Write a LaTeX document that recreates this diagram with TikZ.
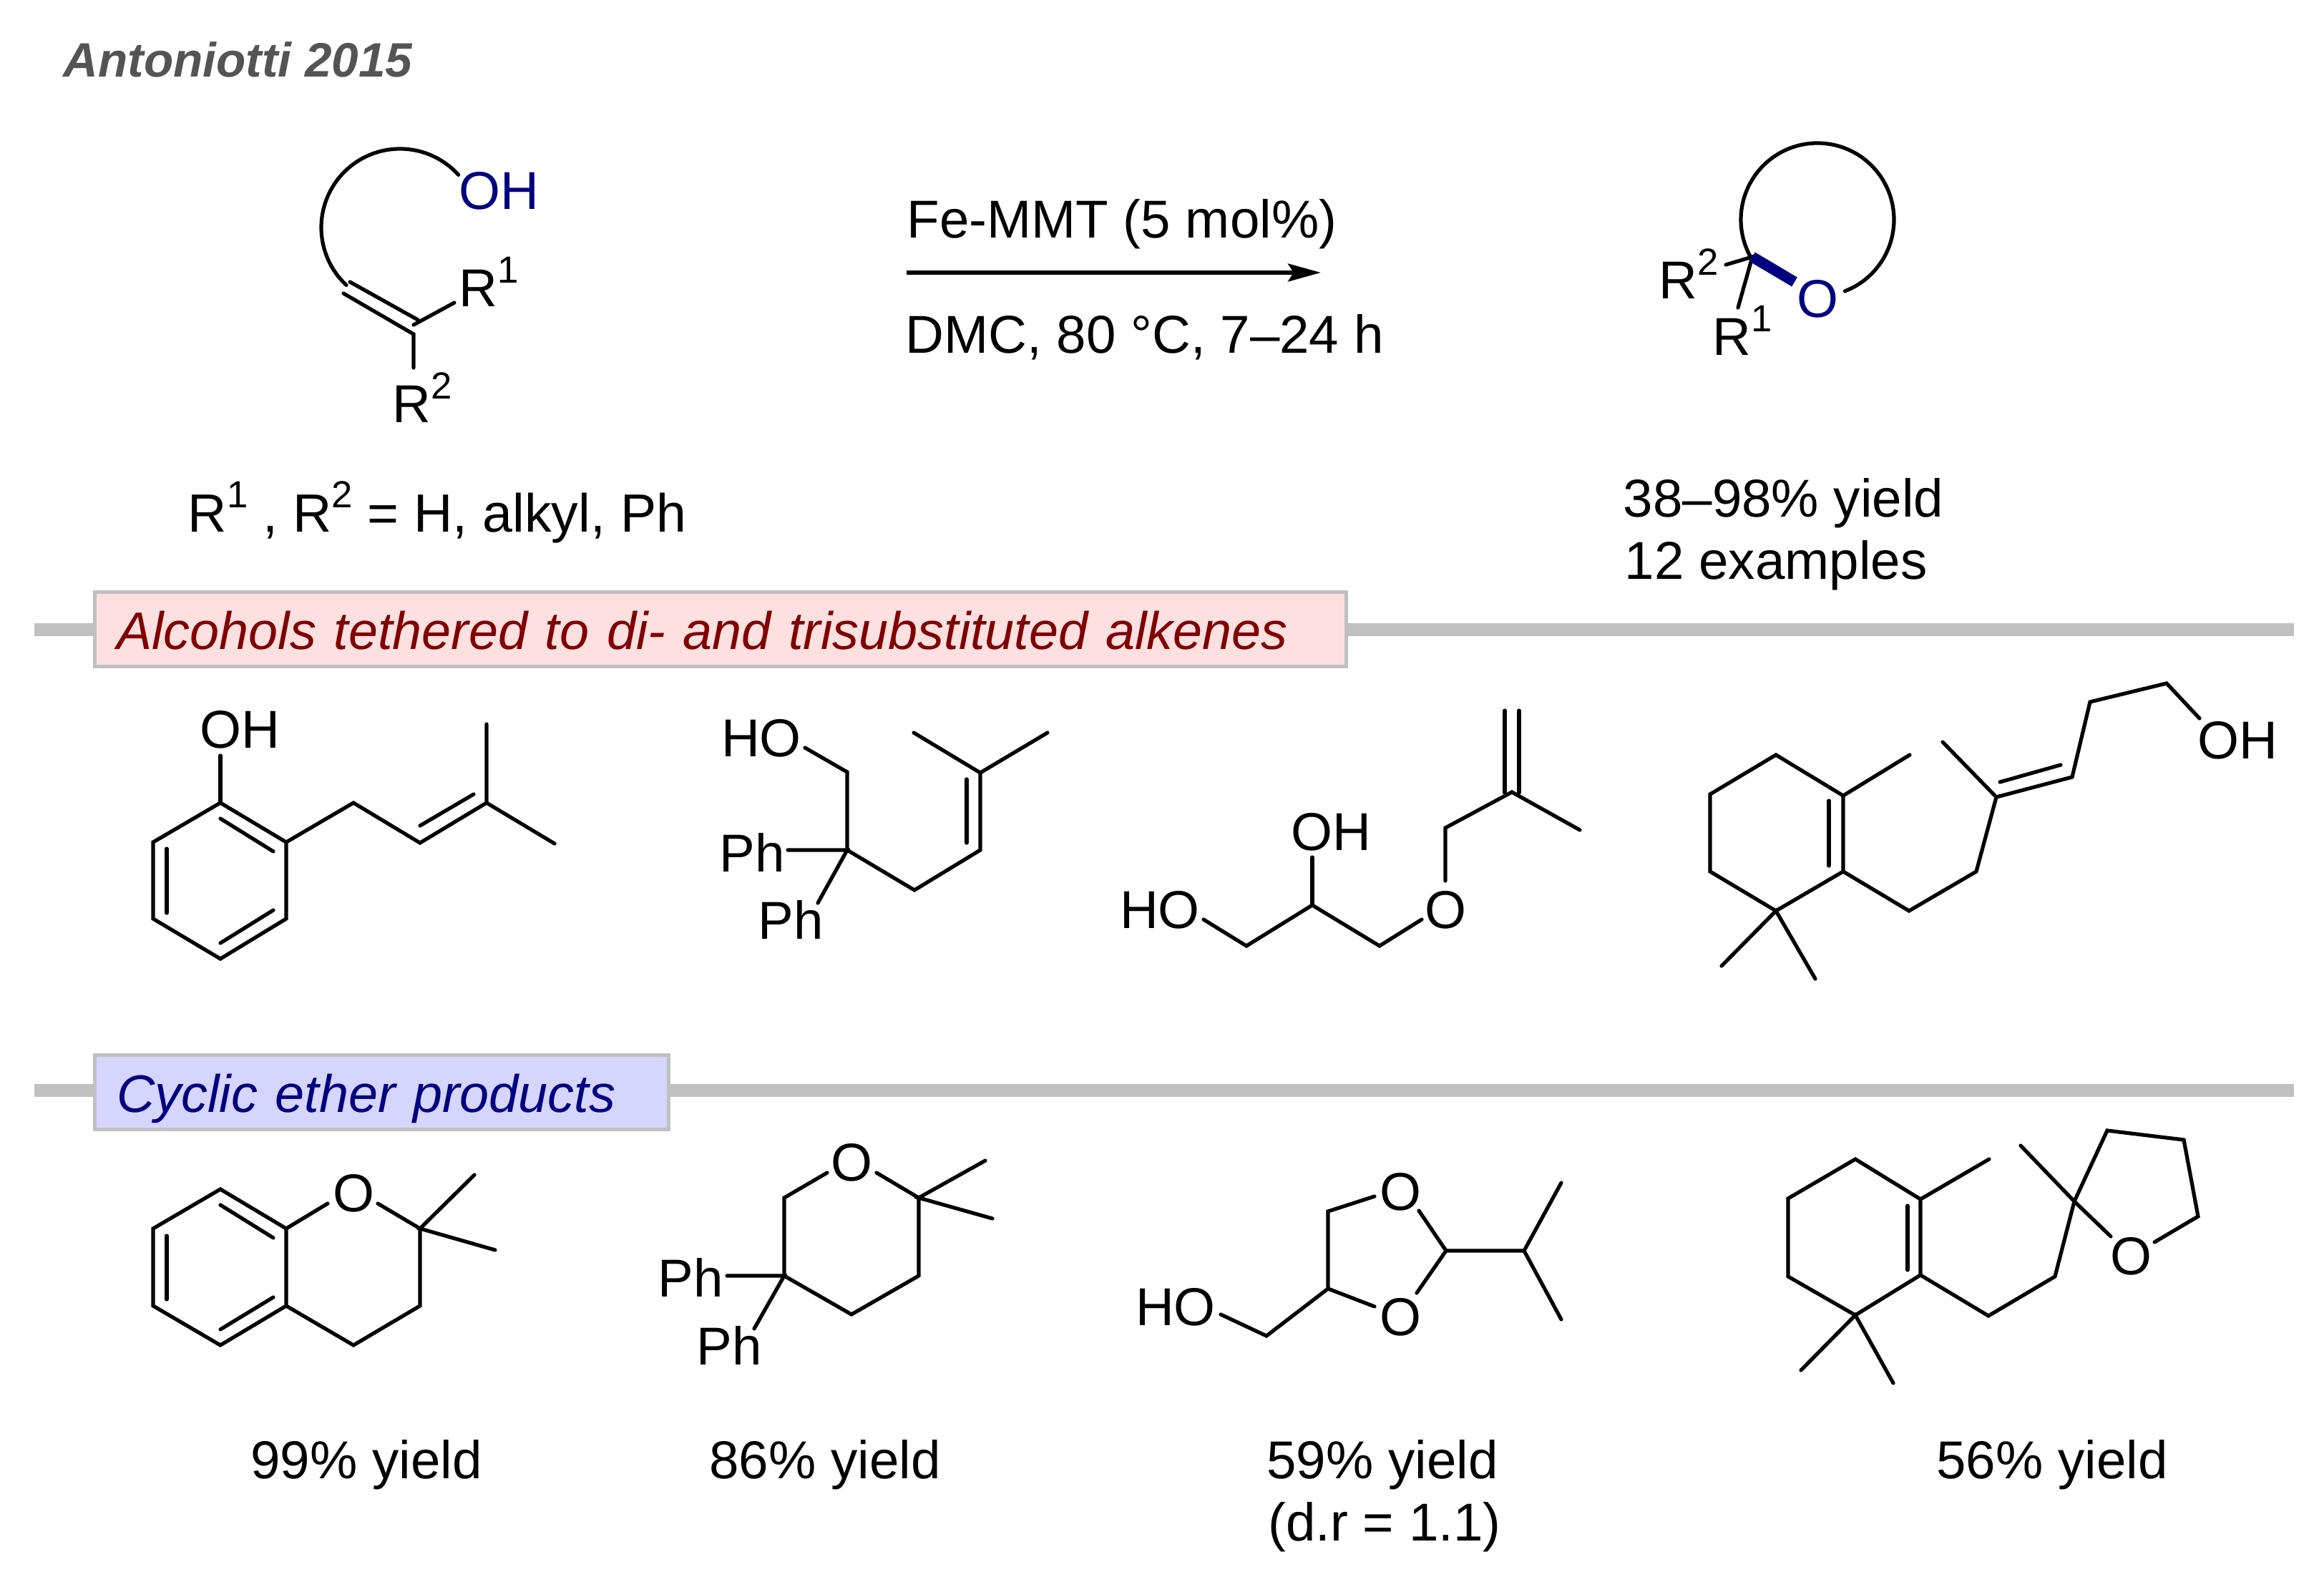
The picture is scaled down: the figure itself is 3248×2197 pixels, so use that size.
\documentclass[tikz,border=0pt]{standalone}
\usepackage{fontspec}
\setmainfont{Liberation Sans}
\usetikzlibrary{arrows.meta}
\definecolor{oxnavy}{HTML}{000080}
\definecolor{banred}{HTML}{800000}
\definecolor{rulegray}{HTML}{C0C0C0}
\definecolor{banpink}{HTML}{FFE0E0}
\definecolor{banblue}{HTML}{D5D5FF}
\newcommand{\supn}[1]{\raisebox{.44em}{\fontsize{15}{15}\selectfont #1}}
\tikzset{
  bond/.style={line width=.052cm, line cap=round, line join=miter},
  lab/.style={font=\fontsize{21.2}{25}\selectfont, inner sep=0pt, anchor=base},
  txt/.style={lab, anchor=base west},
  banrule/.style={rulegray, line width=.175cm},
  banner/.style={draw=rulegray, line width=.045cm, anchor=north west, inner ysep=0pt, inner xsep=.31cm, align=left,
    text height=.80cm, text depth=.24cm, font=\fontsize{20.98}{25}\selectfont\itshape}
}
\begin{document}
\begin{tikzpicture}[x=.01cm,y=-.01cm]
\useasboundingbox (0,0) rectangle (3248,2197);
\node (title) [anchor=base west, inner sep=0pt, text=black!67, font=\fontsize{19.2}{23}\selectfont\bfseries\itshape] at (88,108) {Antoniotti 2015};
% Starting material
\coordinate (s1) at (480,399); \coordinate (s2) at (640,245);
\coordinate (s3) at (480,410); \coordinate (s4) at (578,467);
\coordinate (s5) at (489,394); \coordinate (s6) at (584,447);
\coordinate (s7) at (578,454); \coordinate (s8) at (635,423); \coordinate (s9) at (578,514);
\draw[bond] plot[domain=133:318, samples=50, smooth] ({559+110*cos(\x)},{318+110*sin(\x)});
\draw[bond] (s3) -- (s4) -- (s9);
\draw[bond] (s5) -- (s6);
\draw[bond] (s7) -- (s8);
\node (oh) [lab, text=oxnavy] at (697,293) {OH};
\node (rone) [lab] at (683,428) {R\supn{1}};
\node (rtwo) [lab] at (590,590) {R\supn{2}};
\node (rnote) [txt, font=\fontsize{21.4}{25}\selectfont] at (262,743) {R\supn{1} , R\supn{2} = H, alkyl, Ph};
% Arrow
\coordinate (arrowa) at (1267,381); \coordinate (arrowb) at (1846,381);
\draw[line width=.05cm, -{Stealth[length=.46cm,width=.25cm,inset=.08cm]}] (arrowa) -- (arrowb);
\node (cat) [txt] at (1267,333) {Fe-MMT (5 mol\%)};
\node (cond) [txt] at (1265,493) {DMC, 80 °C, 7–24 h};
% Product
\coordinate (c1) at (2449,359); \coordinate (c2) at (2412,370); \coordinate (c3) at (2429,430); \coordinate (c4) at (2508,394);
\draw[bond] plot[domain=149:429, samples=60, smooth] ({2540+107*cos(\x)},{307+107*sin(\x)});
\draw[bond] (c2) -- (c1) -- (c3);
\draw[oxnavy, line width=.15cm] (c1) -- (c4);
\node (prodo) [lab, text=oxnavy] at (2540,443) {O};
\node (prodrtwo) [lab] at (2360,417) {R\supn{2}};
\node (prodrone) [lab] at (2435,496) {R\supn{1}};
\node (yield) [txt] at (2268,722) {38–98\% yield};
\node (count) [txt] at (2270,809) {12 examples};
% Banners
\coordinate (ra) at (48,880); \coordinate (rb) at (3206,880);
\coordinate (rc) at (48,1524); \coordinate (rd) at (3206,1524);
\draw[banrule] (ra) -- (rb);
\draw[banrule] (rc) -- (rd);
\node (bana) [banner, fill=banpink, text=banred, text width=16.86cm] at (130,825) {Alcohols tethered to di- and trisubstituted alkenes};
\node (banb) [banner, fill=banblue, text=oxnavy, text width=7.4cm] at (130,1472) {Cyclic ether products};
% Phenol
\coordinate (a1) at (308,1122); \coordinate (a2) at (400,1177); \coordinate (a3) at (400,1284);
\coordinate (a4) at (308,1340); \coordinate (a5) at (214,1284); \coordinate (a6) at (214,1177);
\coordinate (a7) at (308,1056); \coordinate (a8) at (494,1122); \coordinate (a9) at (587,1178);
\coordinate (a10) at (680,1122); \coordinate (a11) at (680,1012); \coordinate (a12) at (775,1179);
\coordinate (a13) at (308,1144); \coordinate (a14) at (382,1190); \coordinate (a15) at (233,1186);
\coordinate (a16) at (233,1276); \coordinate (a17) at (308,1318); \coordinate (a18) at (382,1272);
\coordinate (a19) at (587,1154); \coordinate (a20) at (662,1110);
\draw[bond] (a1) -- (a2) -- (a3) -- (a4) -- (a5) -- (a6) -- cycle;
\draw[bond] (a7) -- (a1);
\draw[bond] (a2) -- (a8) -- (a9) -- (a10) -- (a11);
\draw[bond] (a10) -- (a12);
\draw[bond] (a13) -- (a14);
\draw[bond] (a15) -- (a16);
\draw[bond] (a17) -- (a18);
\draw[bond] (a19) -- (a20);
\node (aoh) [lab] at (335,1045) {OH};
% Diphenyl alcohol
\coordinate (b1) at (1184,1188); \coordinate (b2) at (1184,1079); \coordinate (b3) at (1125,1045);
\coordinate (b4) at (1101,1188); \coordinate (b5) at (1143,1262); \coordinate (b6) at (1278,1244);
\coordinate (b7) at (1370,1188); \coordinate (b8) at (1370,1080); \coordinate (b9) at (1277,1024);
\coordinate (b10) at (1464,1024); \coordinate (b11) at (1351,1089); \coordinate (b12) at (1351,1178);
\draw[bond] (b3) -- (b2) -- (b1) -- (b6) -- (b7) -- (b8) -- (b9);
\draw[bond] (b8) -- (b10);
\draw[bond] (b4) -- (b1) -- (b5);
\draw[bond] (b11) -- (b12);
\node (bho) [lab] at (1064,1057) {HO};
\node (bpha) [lab] at (1051,1218) {Ph};
\node (bphb) [lab] at (1105,1312) {Ph};
% Glycerol ether
\coordinate (d1) at (1682,1285); \coordinate (d2) at (1742,1322); \coordinate (d3) at (1834,1265);
\coordinate (d4) at (1928,1322); \coordinate (d5) at (1987,1285); \coordinate (d6) at (1834,1198);
\coordinate (d7) at (2020,1231); \coordinate (d8) at (2020,1157); \coordinate (d9) at (2113,1107);
\coordinate (d10) at (2208,1160); \coordinate (d11) at (2103,993); \coordinate (d12) at (2103,1108);
\coordinate (d13) at (2123,993); \coordinate (d14) at (2123,1108);
\draw[bond] (d1) -- (d2) -- (d3) -- (d4) -- (d5);
\draw[bond] (d3) -- (d6);
\draw[bond] (d7) -- (d8) -- (d9) -- (d10);
\draw[bond] (d11) -- (d12);
\draw[bond] (d13) -- (d14);
\node (dho) [lab] at (1621,1297) {HO};
\node (doh) [lab] at (1860,1188) {OH};
\node (doo) [lab] at (2020,1297) {O};
% Terpene alcohol
\coordinate (e1) at (2482,1055); \coordinate (e2) at (2390,1110); \coordinate (e3) at (2390,1218);
\coordinate (e4) at (2482,1273); \coordinate (e5) at (2576,1218); \coordinate (e6) at (2576,1112);
\coordinate (e7) at (2669,1055); \coordinate (e8) at (2556,1119); \coordinate (e9) at (2556,1210);
\coordinate (e10) at (2406,1350); \coordinate (e11) at (2537,1368); \coordinate (e12) at (2668,1273);
\coordinate (e13) at (2762,1218); \coordinate (e14) at (2790,1114); \coordinate (e15) at (2715,1037);
\coordinate (e16) at (2896,1086); \coordinate (e17) at (2795,1093); \coordinate (e18) at (2880,1069);
\coordinate (e19) at (2921,981); \coordinate (e20) at (3028,955); \coordinate (e21) at (3074,1004);
\draw[bond] (e1) -- (e2) -- (e3) -- (e4) -- (e5) -- (e6) -- cycle;
\draw[bond] (e6) -- (e7);
\draw[bond] (e8) -- (e9);
\draw[bond] (e10) -- (e4) -- (e11);
\draw[bond] (e5) -- (e12) -- (e13) -- (e14) -- (e15);
\draw[bond] (e14) -- (e16) -- (e19) -- (e20) -- (e21);
\draw[bond] (e17) -- (e18);
\node (eoh) [lab] at (3127,1060) {OH};
% Chroman
\coordinate (f1) at (308,1662); \coordinate (f2) at (400,1717); \coordinate (f3) at (400,1825);
\coordinate (f4) at (308,1880); \coordinate (f5) at (214,1825); \coordinate (f6) at (214,1717);
\coordinate (f7) at (458,1682); \coordinate (f8) at (528,1682); \coordinate (f9) at (587,1717);
\coordinate (f10) at (663,1642); \coordinate (f11) at (692,1747); \coordinate (f12) at (587,1825);
\coordinate (f13) at (494,1880); \coordinate (f14) at (308,1684); \coordinate (f15) at (382,1730);
\coordinate (f16) at (233,1727); \coordinate (f17) at (233,1816); \coordinate (f18) at (308,1858);
\coordinate (f19) at (382,1813);
\draw[bond] (f1) -- (f2) -- (f3) -- (f4) -- (f5) -- (f6) -- cycle;
\draw[bond] (f7) -- (f2);
\draw[bond] (f3) -- (f13) -- (f12) -- (f9) -- (f8);
\draw[bond] (f10) -- (f9) -- (f11);
\draw[bond] (f14) -- (f15);
\draw[bond] (f16) -- (f17);
\draw[bond] (f18) -- (f19);
\node (foo) [lab] at (494,1693) {O};
% Tetrahydropyran
\coordinate (g1) at (1096,1674); \coordinate (g2) at (1156,1639); \coordinate (g3) at (1225,1639);
\coordinate (g4) at (1284,1674); \coordinate (g5) at (1377,1622); \coordinate (g6) at (1387,1703);
\coordinate (g7) at (1284,1783); \coordinate (g8) at (1190,1837); \coordinate (g9) at (1096,1783);
\coordinate (g10) at (1016,1783); \coordinate (g11) at (1054,1857);
\draw[bond] (g2) -- (g1) -- (g9) -- (g8) -- (g7) -- (g4) -- (g3);
\draw[bond] (g5) -- (g4) -- (g6);
\draw[bond] (g10) -- (g9) -- (g11);
\node (goo) [lab] at (1190,1650) {O};
\node (gpha) [lab] at (965,1812) {Ph};
\node (gphb) [lab] at (1019,1907) {Ph};
% Dioxolane
\coordinate (h1) at (1706,1837); \coordinate (h2) at (1770,1867); \coordinate (h3) at (1856,1801);
\coordinate (h4) at (1856,1693); \coordinate (h5) at (1921,1672); \coordinate (h6) at (1921,1826);
\coordinate (h7) at (1983,1692); \coordinate (h8) at (2021,1748); \coordinate (h9) at (1980,1807);
\coordinate (h10) at (2130,1748); \coordinate (h11) at (2182,1653); \coordinate (h12) at (2182,1844);
\draw[bond] (h1) -- (h2) -- (h3) -- (h4) -- (h5);
\draw[bond] (h3) -- (h6);
\draw[bond] (h7) -- (h8) -- (h9);
\draw[bond] (h8) -- (h10) -- (h11);
\draw[bond] (h10) -- (h12);
\node (hho) [lab] at (1643,1852) {HO};
\node (hoa) [lab] at (1957,1691) {O};
\node (hob) [lab] at (1957,1866) {O};
% Terpene ether
\coordinate (k1) at (2593,1620); \coordinate (k2) at (2499,1675); \coordinate (k3) at (2499,1784);
\coordinate (k4) at (2593,1838); \coordinate (k5) at (2684,1782); \coordinate (k6) at (2684,1676);
\coordinate (k7) at (2780,1620); \coordinate (k8) at (2666,1685); \coordinate (k9) at (2666,1775);
\coordinate (k10) at (2517,1915); \coordinate (k11) at (2646,1933); \coordinate (k12) at (2779,1839);
\coordinate (k13) at (2872,1784); \coordinate (k14) at (2899,1679); \coordinate (k15) at (2824,1601);
\coordinate (k16) at (2945,1580); \coordinate (k17) at (3052,1593); \coordinate (k18) at (3072,1700);
\coordinate (k19) at (3011,1736); \coordinate (k20) at (2950,1728);
\draw[bond] (k1) -- (k2) -- (k3) -- (k4) -- (k5) -- (k6) -- cycle;
\draw[bond] (k6) -- (k7);
\draw[bond] (k8) -- (k9);
\draw[bond] (k10) -- (k4) -- (k11);
\draw[bond] (k5) -- (k12) -- (k13) -- (k14) -- (k15);
\draw[bond] (k14) -- (k16) -- (k17) -- (k18) -- (k19);
\draw[bond] (k14) -- (k20);
\node (koo) [lab] at (2978,1781) {O};
% Yields
\node (ya) [lab] at (512,2066) {99\% yield};
\node (yb) [lab] at (1153,2066) {86\% yield};
\node (yc) [lab] at (1932,2066) {59\% yield};
\node (yd) [lab] at (1935,2153) {(d.r = 1.1)};
\node (ye) [lab] at (2868,2066) {56\% yield};
\end{tikzpicture}
\end{document}
